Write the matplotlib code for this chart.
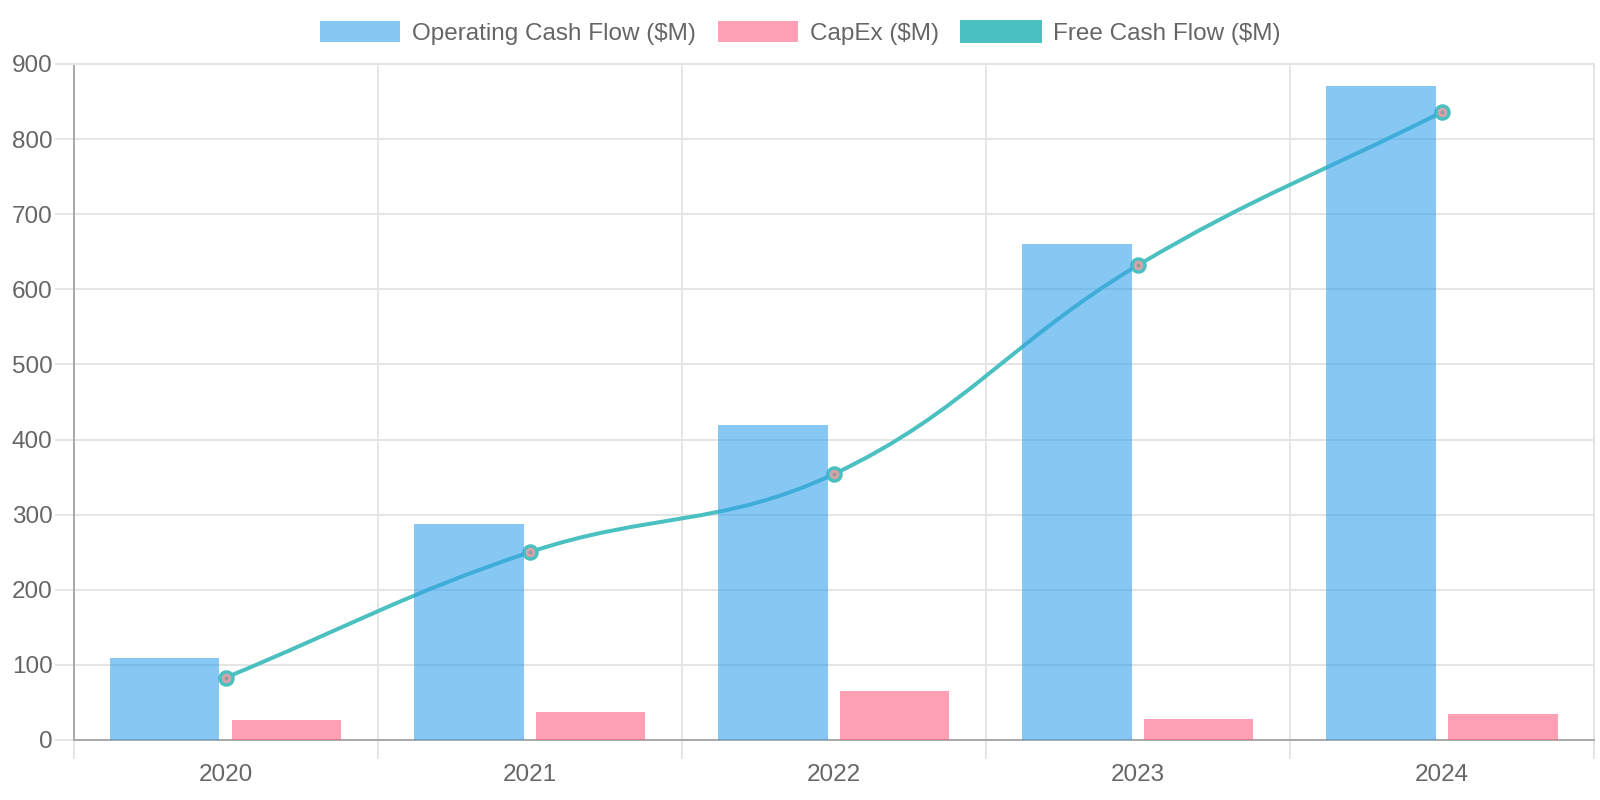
import matplotlib
matplotlib.use("Agg")
import matplotlib.pyplot as plt
from matplotlib.patches import Patch
from matplotlib.path import Path
from matplotlib.patches import PathPatch
from matplotlib.ticker import FixedLocator
import numpy as np

plt.rcParams['font.family'] = ['Liberation Sans', 'DejaVu Sans']

years = ["2020", "2021", "2022", "2023", "2024"]
operating_cash_flow = [109, 287, 419, 660, 871]
capex = [26, 37, 65, 28, 35]
free_cash_flow = [83, 250, 354, 632, 836]
y_ticks = [0, 100, 200, 300, 400, 500, 600, 700, 800, 900]

PX = 72 / 100.0  # points per pixel at dpi 100
TEXT = '#666666'
GRID = '#e5e5e5'
OCF_C = (54/255, 162/255, 235/255, 0.6)
CAP_C = (255/255, 99/255, 132/255, 0.6)
FCF_C = '#4bc0c0'

fig = plt.figure(figsize=(16, 8), dpi=100)
ax = fig.add_axes([73.5/1600, 60/800, (1594-73.5)/1600, (740-64)/800])

x = np.arange(len(years))
ax.set_xlim(-0.5, len(years) - 0.5)
ax.set_ylim(0, 900)

bw = 0.36
ax.bar(x - 0.2, operating_cash_flow, width=bw, color=OCF_C, zorder=3, linewidth=0)
ax.bar(x + 0.2, capex, width=bw, color=CAP_C, zorder=3, linewidth=0)

# Chart.js-style spline (tension 0.4) computed in pixel space
fig.canvas.draw()
pts = ax.transData.transform(np.column_stack([x, free_cash_flow]).astype(float))
t = 0.4
n = len(pts)
cp_prev = np.zeros_like(pts)
cp_next = np.zeros_like(pts)
for i in range(n):
    prev = pts[i-1] if i > 0 else pts[i]
    cur = pts[i]
    nxt = pts[i+1] if i < n-1 else pts[i]
    d01 = np.hypot(*(cur - prev))
    d12 = np.hypot(*(nxt - cur))
    tot = d01 + d12
    s01 = d01 / tot if tot else 0
    s12 = d12 / tot if tot else 0
    fa = t * s01
    fb = t * s12
    cp_prev[i] = cur - fa * (nxt - prev)
    cp_next[i] = cur + fb * (nxt - prev)
verts = [pts[0]]
codes = [Path.MOVETO]
for i in range(n-1):
    verts += [cp_next[i], cp_prev[i+1], pts[i+1]]
    codes += [Path.CURVE4]*3
inv = ax.transData.inverted()
verts_data = inv.transform(np.array(verts))
path = Path(verts_data, codes)
ax.add_patch(PathPatch(path, facecolor='none', edgecolor=FCF_C, linewidth=4*PX,
                       zorder=2, capstyle='round', joinstyle='round'))
ax.plot(x, free_cash_flow, linestyle='none', marker='o', markersize=13*PX,
        markerfacecolor='#d9a3ab', markeredgecolor=FCF_C, markeredgewidth=3.5*PX, zorder=2.5)
ax.plot(x, free_cash_flow, linestyle='none', marker='o', markersize=4*PX,
        markerfacecolor='#9a9a9a', markeredgewidth=0, zorder=2.6)

# Axes styling
ax.set_axisbelow(True)
ax.set_yticks(y_ticks)
ax.set_yticklabels([str(v) for v in y_ticks])
ax.set_xticks(x)
ax.set_xticklabels(years)
ax.xaxis.set_minor_locator(FixedLocator(np.arange(-0.5, len(years), 1.0)))
ax.grid(True, axis='y', which='major', color=GRID, linewidth=2*PX)
ax.grid(True, axis='x', which='minor', color=GRID, linewidth=2*PX)
ax.tick_params(axis='y', which='major', length=19*PX, width=2*PX, color=GRID,
               labelsize=24.3*PX, labelcolor=TEXT, pad=2*PX)
ax.tick_params(axis='x', which='major', length=0, labelsize=24.3*PX, labelcolor=TEXT, pad=24*PX)
ax.tick_params(axis='x', which='minor', length=19*PX, width=2*PX, color=GRID)

for side in ['left', 'bottom']:
    ax.spines[side].set_color('#aaaaaa')
    ax.spines[side].set_linewidth(2*PX)
for side in ['top', 'right']:
    ax.spines[side].set_color(GRID)
    ax.spines[side].set_linewidth(2*PX)

handles = [
    Patch(facecolor=OCF_C, edgecolor='none', label='Operating Cash Flow ($M)'),
    Patch(facecolor=CAP_C, edgecolor='none', label='CapEx ($M)'),
    Patch(facecolor=FCF_C, edgecolor=FCF_C, linewidth=2*PX, label='Free Cash Flow ($M)'),
]
fig.legend(handles=handles, loc='center', bbox_to_anchor=(0.5, 1 - 32.6/800), ncol=3,
           frameon=False, fontsize=24.3*PX, labelcolor=TEXT, handlelength=80/24.3,
           handleheight=1.0, handletextpad=0.5, columnspacing=0.9, borderpad=0,
           borderaxespad=0)

fig.savefig('out.png', dpi=100)
